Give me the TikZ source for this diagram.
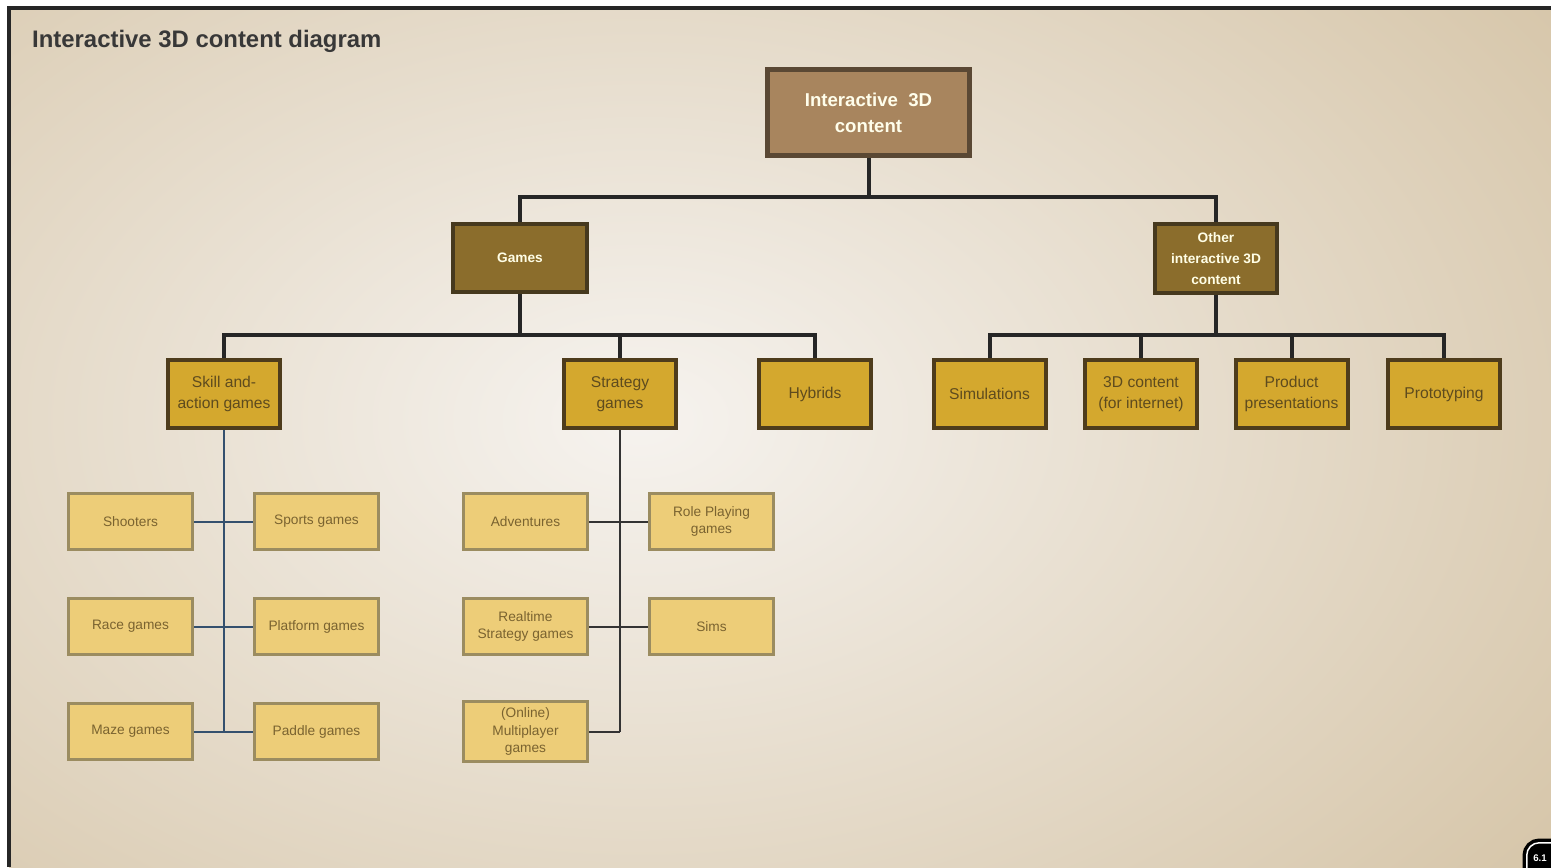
\documentclass[tikz,border=0pt]{standalone}
\usepackage{fontspec}
\setmainfont{Liberation Sans}
\usetikzlibrary{positioning}

\definecolor{bgout}{HTML}{D3C1A2}
\definecolor{bgin}{HTML}{F6F3EF}
\definecolor{rootfill}{HTML}{A8855E}
\definecolor{rootline}{HTML}{5A4834}
\definecolor{catfill}{HTML}{8B6D2C}
\definecolor{catline}{HTML}{46391E}
\definecolor{subfill}{HTML}{D4A82E}
\definecolor{subline}{HTML}{4E3C1C}
\definecolor{subtext}{HTML}{5E4B1E}
\definecolor{leaffill}{HTML}{EDCD78}
\definecolor{leafline}{HTML}{9B8C60}
\definecolor{leaftext}{HTML}{7A6330}
\definecolor{blueline}{HTML}{34506E}

\tikzset{
  rootbox/.style={shape=rectangle, draw=rootline, fill=rootfill, line width=0.1cm,
    minimum width=4.04cm, minimum height=1.72cm, align=center, text=white!92!yellow,
    font=\fontsize{10.6}{14.8}\selectfont\bfseries},
  catbox/.style={shape=rectangle, draw=catline, fill=catfill, line width=0.08cm,
    minimum height=1.36cm, align=center, text=white!90!yellow,
    font=\fontsize{7.8}{11.8}\selectfont\bfseries},
  subbox/.style={shape=rectangle, draw=subline, fill=subfill, line width=0.08cm,
    minimum width=2.24cm, minimum height=1.36cm, align=center, text=subtext,
    font=\fontsize{8.9}{11.8}\selectfont},
  leafbox/.style={shape=rectangle, draw=leafline, fill=leaffill, line width=0.06cm,
    minimum width=2.48cm, minimum height=1.12cm, align=center, text=leaftext,
    font=\fontsize{7.8}{10}\selectfont},
  trunk/.style={draw=black!85, line width=0.08cm},
  twig/.style={line width=0.04cm}
}

\begin{document}
\begin{tikzpicture}[x=0.02cm,y=-0.02cm]
	\useasboundingbox (0,0) rectangle (1551,867);
	% background and frame
	\fill[white] (0,0) rectangle (1551,867);
	\fill[bgout] (9,8) rectangle (1551,867);
	\begin{scope}
		\clip (9,8) rectangle (1551,867);
		\shade[inner color=bgin, outer color=bgout] (640,420) ellipse (1250 and 820);
	\end{scope}
	\draw[black!85, line width=0.08cm] (7,8) -- (1551,8);
	\draw[black!85, line width=0.08cm] (9,6) -- (9,867);

	\node[anchor=west, text=black!78, font=\fontsize{13.6}{16}\selectfont\bfseries] (title) at (26,41) {Interactive 3D content diagram};

	% top levels
	\node[rootbox] (root) at (868.5,112.5) {Interactive~~3D\\content};
	\node[catbox, minimum width=2.68cm] (games) at (520,258) {Games};
	\node[catbox, minimum width=2.44cm, minimum height=1.38cm] (other) at (1216,258.5) {Other\\interactive 3D\\content};

	\node[subbox] (skill) at (224,394) {Skill and-\\action games};
	\node[subbox] (strategy) at (620,394) {Strategy\\games};
	\node[subbox] (hybrids) at (815,394) {Hybrids};
	\node[subbox] (sim) at (989.5,394) {Simulations};
	\node[subbox] (web) at (1141,394) {3D content\\(for internet)};
	\node[subbox] (prod) at (1291.5,394) {Product\\presentations};
	\node[subbox] (proto) at (1444,394) {Prototyping};

	% leaves
	\node[leafbox] (shoot) at (130.5,521.5) {Shooters};
	\node[leafbox] (sport) at (316.5,521.5) {Sports games};
	\node[leafbox] (race) at (130.5,626.5) {Race games};
	\node[leafbox] (platform) at (316.5,626.5) {Platform games};
	\node[leafbox] (maze) at (130.5,731.5) {Maze games};
	\node[leafbox] (paddle) at (316.5,731.5) {Paddle games};

	\node[leafbox] (adv) at (525.5,521.5) {Adventures};
	\node[leafbox] (rpg) at (711.5,521.5) {Role Playing\\games};
	\node[leafbox] (rts) at (525.5,626.5) {Realtime\\Strategy games};
	\node[leafbox] (sims) at (711.5,626.5) {Sims};
	\node[leafbox] (multi) at (525.5,731.5) {(Online)\\Multiplayer\\games};

	\coordinate (j1) at (868.5,197);
	\coordinate (j2) at (520,335);
	\coordinate (j3) at (1216,335);

	\path[trunk] (root) -- (j1);
	\path[trunk] (games.north) |- (j1) -| (other.north);
	\path[trunk] (games) -- (j2);
	\path[trunk] (skill.north) |- (j2) -| (hybrids.north);
	\path[trunk] (strategy.north) -- (strategy.north |- j2);
	\path[trunk] (other) -- (j3);
	\path[trunk] (sim.north) |- (j3) -| (proto.north);
	\path[trunk] (web.north) -- (web.north |- j3);
	\path[trunk] (prod.north) -- (prod.north |- j3);

	\draw[twig, blueline] (skill.south) -- (skill.south |- maze.east);
	\draw[twig, blueline] (shoot) -- (sport);
	\draw[twig, blueline] (race) -- (platform);
	\draw[twig, blueline] (maze) -- (paddle);

	\draw[twig, black!80] (strategy.south) -- (strategy.south |- multi.east);
	\draw[twig, black!80] (adv) -- (rpg);
	\draw[twig, black!80] (rts) -- (sims);
	\draw[twig, black!80] (multi.east) -- (multi.east -| strategy.south);

	% page tab
	\node[draw=black, fill=black, double=white, double distance=0.03cm, line width=0.07cm,
		rounded corners=0.25cm, minimum width=1cm, minimum height=0.9cm,
		anchor=north west, inner sep=0pt] (tab) at (1525,841) {};
	\node[text=white, font=\fontsize{5.5}{6}\selectfont\bfseries, anchor=west, inner sep=0pt] (tabtext) at (1533,858) {6.1};
\end{tikzpicture}
\end{document}
